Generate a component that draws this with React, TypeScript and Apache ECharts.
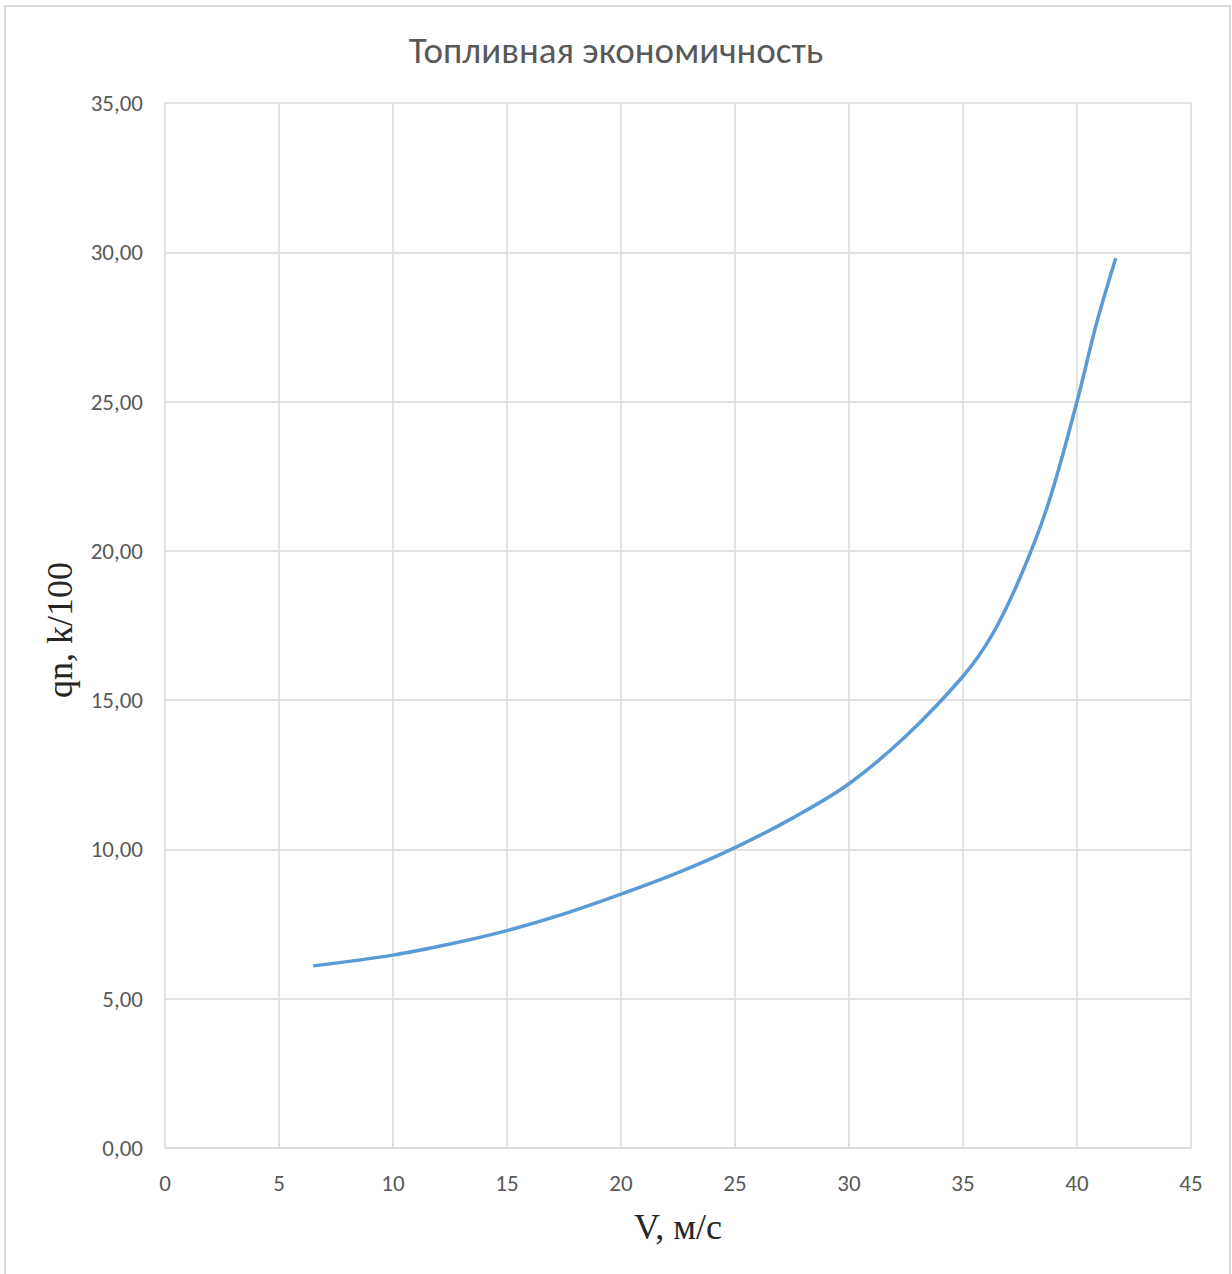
import React, { useEffect, useRef } from "react";
import * as echarts from "echarts";

const speeds = [6.5, 10, 12.5, 15, 17.5, 20, 22.5, 25, 27.5, 30, 32.5, 35, 36.25, 37.5, 38.75, 40, 40.85, 41.7];
const consumption = [6.1, 6.46, 6.83, 7.28, 7.84, 8.5, 9.22, 10.06, 11.04, 12.2, 13.8, 15.8, 17.15, 19.1, 21.6, 25.0, 27.6, 29.8];

const titleText = "Топливная экономичность";
const xName = "V, м/с";
const yName = "qn, k/100";

const sansFont = "Carlito, Lato, 'Open Sans', sans-serif";
const serifFont = "'Liberation Serif', 'DejaVu Serif', serif";

export default function App() {
  const ref = useRef<HTMLDivElement>(null);

  useEffect(() => {
    if (!ref.current) return;
    const chart = echarts.init(ref.current, null, { renderer: "svg" });
    const data = speeds.map((v, i) => [v, consumption[i]]);
    chart.setOption({
      animation: false,
      backgroundColor: "#ffffff",
      title: {
        text: titleText,
        left: "center",
        top: 27,
        textStyle: { fontFamily: sansFont, fontSize: 37, fontWeight: "normal", color: "#595959" },
      },
      grid: { left: 165, right: 41, top: 103, bottom: 126, containLabel: false },
      xAxis: {
        type: "value",
        min: 0,
        max: 45,
        interval: 5,
        axisLine: { show: true, lineStyle: { color: "#d9d9d9", width: 1.5 } },
        axisTick: { show: false },
        axisLabel: { margin: 23, fontFamily: sansFont, fontSize: 23, color: "#595959" },
        splitLine: { show: true, lineStyle: { color: "#d9d9d9", width: 1.5 } },
      },
      yAxis: {
        type: "value",
        min: 0,
        max: 35,
        interval: 5,
        axisLine: { show: false },
        axisTick: { show: false },
        axisLabel: {
          margin: 22,
          fontFamily: sansFont,
          fontSize: 23,
          color: "#595959",
          formatter: (v: number) => v.toFixed(2).replace(".", ","),
        },
        splitLine: { show: true, lineStyle: { color: "#d9d9d9", width: 1.5 } },
      },
      graphic: [
        {
          type: "rect",
          shape: { x: 5, y: 6, width: 1225, height: 1290 },
          style: { fill: "none", stroke: "#d9d9d9", lineWidth: 2 },
          silent: true,
        },
        {
          type: "text",
          x: 60,
          y: 630,
          rotation: Math.PI / 2,
          style: {
            text: yName,
            align: "center",
            verticalAlign: "middle",
            font: `36px ${serifFont}`,
            fill: "#262626",
          },
        },
        {
          type: "text",
          x: 678,
          y: 1227,
          style: {
            text: xName,
            align: "center",
            verticalAlign: "middle",
            font: `36px ${serifFont}`,
            fill: "#262626",
          },
        },
      ],
      series: [
        {
          type: "line",
          data,
          smooth: 0.35,
          showSymbol: false,
          lineStyle: { color: "#5b9bd5", width: 3.5 },
        },
      ],
    });
    return () => chart.dispose();
  }, []);

  return (
    <div
      ref={ref}
      style={{ position: "fixed", left: 0, top: 0, width: 1232, height: 1274 }}
    />
  );
}
